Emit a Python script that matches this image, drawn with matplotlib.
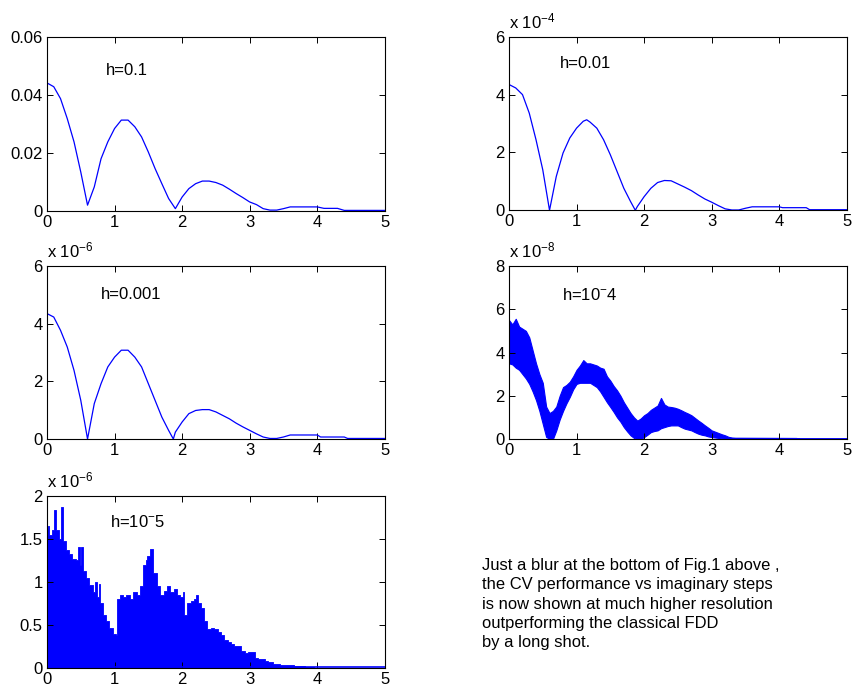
import numpy as np
import matplotlib.pyplot as plt

plt.rcParams['font.family'] = ['Liberation Sans', 'DejaVu Sans']
plt.rcParams['mathtext.fontset'] = 'custom'
plt.rcParams['mathtext.rm'] = 'Liberation Sans'
plt.rcParams['mathtext.it'] = 'Liberation Sans:italic'

# h = 0.1
x1 = [0, 0.1, 0.2, 0.3, 0.4, 0.5, 0.6, 0.7, 0.8, 0.9, 1.0, 1.1, 1.2, 1.3, 1.4,
      1.5, 1.6, 1.7, 1.8, 1.9, 2.0, 2.1, 2.2, 2.3, 2.4, 2.5, 2.6, 2.7, 2.8, 2.9,
      3.0, 3.1, 3.2, 3.3, 3.4, 3.5, 3.6, 3.7, 3.8, 3.9, 4.0, 4.1, 4.2, 4.3, 4.4,
      4.5, 5.0]
y1 = [0.0441, 0.0428, 0.0387, 0.0318, 0.0238, 0.0134, 0.0020, 0.0083, 0.0180,
      0.0238, 0.0284, 0.0313, 0.0313, 0.0290, 0.0255, 0.0203, 0.0146, 0.0094,
      0.0043, 0.0008, 0.0048, 0.0077, 0.0094, 0.0103, 0.0103, 0.0098, 0.0089,
      0.0075, 0.0060, 0.0046, 0.0031, 0.0022, 0.0008, 0.0003, 0.0003, 0.0008,
      0.0014, 0.0014, 0.0014, 0.0014, 0.0014, 0.0009, 0.0009, 0.0009, 0.0002,
      0.0002, 0.0002]

# h = 0.01  (units of 1e-4)
x2 = [0, 0.1, 0.2, 0.3, 0.4, 0.5, 0.6, 0.7, 0.8, 0.9, 1.0, 1.1, 1.15, 1.2, 1.3,
      1.4, 1.5, 1.6, 1.7, 1.8, 1.87, 1.9, 2.0, 2.1, 2.2, 2.3, 2.4, 2.5, 2.6, 2.7,
      2.8, 2.9, 3.0, 3.1, 3.2, 3.3, 3.4, 3.5, 3.6, 4.0, 4.05, 4.4, 4.45, 5.0]
y2 = [4.35, 4.23, 4.0, 3.36, 2.44, 1.4, 0.0, 1.17, 1.98, 2.5, 2.84, 3.08, 3.13,
      3.05, 2.84, 2.44, 1.92, 1.34, 0.76, 0.3, 0.0, 0.13, 0.47, 0.76, 0.96, 1.03,
      1.02, 0.91, 0.8, 0.68, 0.53, 0.39, 0.28, 0.16, 0.05, 0.01, 0.01, 0.07,
      0.12, 0.12, 0.09, 0.09, 0.02, 0.02]

# h = 0.001  (units of 1e-6)
x3 = [0, 0.1, 0.2, 0.3, 0.4, 0.5, 0.6, 0.7, 0.8, 0.9, 1.0, 1.1, 1.2, 1.3, 1.4,
      1.5, 1.6, 1.7, 1.8, 1.87, 1.9, 2.0, 2.1, 2.2, 2.3, 2.4, 2.5, 2.6, 2.7, 2.8,
      2.9, 3.0, 3.1, 3.2, 3.3, 3.4, 3.5, 3.6, 4.0, 4.05, 4.4, 4.45, 5.0]
y3 = [4.35, 4.23, 3.77, 3.19, 2.38, 1.34, 0.0, 1.23, 1.92, 2.5, 2.84, 3.08,
      3.08, 2.84, 2.5, 1.92, 1.34, 0.76, 0.3, 0.0, 0.24, 0.59, 0.88, 0.99, 1.02,
      1.02, 0.94, 0.82, 0.7, 0.55, 0.42, 0.3, 0.18, 0.07, 0.02, 0.02, 0.07,
      0.14, 0.14, 0.07, 0.07, 0.02, 0.02]

# h = 1e-4  (units of 1e-8), upper / lower edge of the noisy band
x4 = [0, 0.05, 0.1, 0.15, 0.2, 0.25, 0.3, 0.35, 0.4, 0.45, 0.5, 0.55, 0.6, 0.65,
      0.7, 0.75, 0.8, 0.85, 0.9, 0.95, 1.0, 1.05, 1.1, 1.15, 1.2, 1.25, 1.3,
      1.35, 1.4, 1.45, 1.5, 1.55, 1.6, 1.65, 1.7, 1.75, 1.8, 1.85, 1.9, 1.95,
      2.0, 2.05, 2.1, 2.15, 2.2, 2.25, 2.3, 2.35, 2.4, 2.45, 2.5, 2.55, 2.6,
      2.65, 2.7, 2.75, 2.8, 2.85, 2.9, 2.95, 3.0, 3.05, 3.1, 3.15, 3.2, 3.25,
      3.3, 3.35, 3.4, 4.25, 4.3, 5.0]
hi4 = [5.5, 5.3, 5.56, 5.2, 5.1, 5.0, 4.7, 4.1, 3.5, 3.0, 2.6, 1.5, 1.2, 1.3,
       1.5, 2.0, 2.4, 2.5, 2.65, 2.9, 3.2, 3.4, 3.65, 3.5, 3.5, 3.45, 3.4, 3.3,
       3.25, 2.9, 2.7, 2.45, 2.25, 2.0, 1.7, 1.45, 1.2, 1.0, 0.85, 0.95, 1.1,
       1.2, 1.35, 1.45, 1.55, 1.9, 1.6, 1.5, 1.48, 1.45, 1.4, 1.33, 1.25, 1.18,
       1.1, 0.98, 0.86, 0.75, 0.63, 0.52, 0.4, 0.34, 0.28, 0.22, 0.17, 0.1,
       0.07, 0.06, 0.06, 0.05, 0.03, 0.03]
lo4 = [3.5, 3.45, 3.3, 3.2, 3.0, 2.8, 2.55, 2.2, 1.8, 1.3, 0.7, 0.1, 0.0, 0.0,
       0.4, 0.9, 1.3, 1.65, 1.95, 2.3, 2.55, 2.6, 2.6, 2.6, 2.6, 2.5, 2.4, 2.2,
       1.95, 1.7, 1.48, 1.25, 1.0, 0.8, 0.55, 0.35, 0.17, 0.05, 0.0, 0.0, 0.09,
       0.2, 0.32, 0.37, 0.4, 0.5, 0.55, 0.6, 0.63, 0.63, 0.63, 0.55, 0.48, 0.44,
       0.4, 0.32, 0.25, 0.2, 0.17, 0.12, 0.09, 0.07, 0.05, 0.03, 0.02, 0.01,
       0.0, 0.02, 0.03, 0.03, 0.01, 0.01]

# h = 1e-5  (units of 1e-6), top of the spiky fill
x5 = [0, 0.02, 0.05, 0.1, 0.12, 0.15, 0.2, 0.22, 0.25, 0.3, 0.35, 0.4, 0.45,
      0.47, 0.5, 0.52, 0.55, 0.6, 0.65, 0.7, 0.72, 0.75, 0.78, 0.8, 0.85, 0.9,
      0.95, 1.0, 1.03, 1.05, 1.1, 1.15, 1.2, 1.25, 1.3, 1.35, 1.4, 1.45, 1.47,
      1.5, 1.55, 1.6, 1.65, 1.7, 1.75, 1.8, 1.85, 1.9, 1.95, 2.0, 2.02, 2.05,
      2.1, 2.15, 2.2, 2.22, 2.25, 2.3, 2.35, 2.4, 2.45, 2.5, 2.55, 2.6, 2.65,
      2.7, 2.75, 2.8, 2.85, 2.9, 2.95, 3.0, 3.05, 3.1, 3.15, 3.2, 3.25, 3.3,
      3.4, 3.5, 3.6, 3.7, 3.8, 3.85, 3.9, 4.0, 5.0]
y5 = [1.62, 1.65, 1.55, 1.6, 1.83, 1.6, 1.5, 1.87, 1.48, 1.37, 1.32, 1.27,
      1.25, 1.4, 1.2, 1.4, 1.13, 1.05, 0.96, 0.88, 1.0, 0.82, 0.98, 0.75, 0.62,
      0.55, 0.47, 0.4, 0.38, 0.8, 0.85, 0.82, 0.85, 0.8, 0.88, 0.85, 0.95,
      1.2, 1.25, 1.3, 1.38, 1.1, 0.95, 0.85, 0.9, 0.95, 0.88, 0.92, 0.85, 0.82,
      0.88, 0.62, 0.75, 0.78, 0.8, 0.85, 0.75, 0.7, 0.55, 0.45, 0.47, 0.45,
      0.42, 0.38, 0.32, 0.3, 0.28, 0.25, 0.26, 0.2, 0.17, 0.19, 0.18, 0.12,
      0.1, 0.1, 0.08, 0.07, 0.05, 0.04, 0.035, 0.02, 0.02, 0.01, 0.01, 0.005,
      0.005]

labels = ['h=0.1', 'h=0.01', 'h=0.001', r'h=10$^{-}$4', r'h=10$^{-}$5']

fig = plt.figure(figsize=(8.53, 6.94), dpi=100)
ax1 = fig.add_axes([0.0551, 0.696, 0.396, 0.251])
ax2 = fig.add_axes([0.5967, 0.697, 0.396, 0.250])
ax3 = fig.add_axes([0.0551, 0.3674, 0.396, 0.2493])
ax4 = fig.add_axes([0.5967, 0.3674, 0.396, 0.2493])
ax5 = fig.add_axes([0.0551, 0.0375, 0.396, 0.248])

blue = '#0000ff'
ax1.plot(x1, y1, color=blue, lw=0.9)
ax2.plot(x2, y2, color=blue, lw=0.9)
ax3.plot(x3, y3, color=blue, lw=0.9)
ax4.fill_between(x4, lo4, hi4, color=blue, lw=0.8)
ax5.fill_between(x5, 0, y5, color=blue, lw=0.6, step='mid')
ax5.plot([0, 5], [0.01, 0.01], color=blue, lw=1.2)

ylims = [0.06, 6, 6, 8, 2]
yticks = [[0, 0.02, 0.04, 0.06], [0, 2, 4, 6], [0, 2, 4, 6], [0, 2, 4, 6, 8],
          [0, 0.5, 1, 1.5, 2]]
ytlabels = [['0', '0.02', '0.04', '0.06'], ['0', '2', '4', '6'],
            ['0', '2', '4', '6'], ['0', '2', '4', '6', '8'],
            ['0', '0.5', '1', '1.5', '2']]
exps = [None, '-4', '-6', '-8', '-6']
label_pos = [(0.87, 0.0483), (0.75, 5.06), (0.8, 5.0), (0.78, 6.66), (0.93, 1.70)]

for i, ax in enumerate([ax1, ax2, ax3, ax4, ax5]):
    ax.set_xlim(0, 5)
    ax.set_ylim(0, ylims[i])
    ax.set_xticks([0, 1, 2, 3, 4, 5])
    ax.set_xticklabels(['0', '1', '2', '3', '4', '5'])
    ax.set_yticks(yticks[i])
    ax.set_yticklabels(ytlabels[i])
    ax.tick_params(direction='in', top=True, right=True, length=4,
                   labelsize=12, width=0.7, pad=3)
    for s in ax.spines.values():
        s.set_linewidth(0.8)
    ax.text(label_pos[i][0], label_pos[i][1], labels[i], fontsize=12,
            va='center', ha='left')
    if exps[i]:
        ax.text(0.0, 1.03, r'x 10$^{%s}$' % exps[i], transform=ax.transAxes,
                fontsize=12, va='bottom', ha='left')

note = ("Just a blur at the bottom of Fig.1 above ,\n"
        "the CV performance vs imaginary steps\n"
        "is now shown at much higher resolution\n"
        "outperforming the classical FDD\n"
        "by a long shot.")
fig.text(482 / 853, 1 - 558 / 694, note, fontsize=11.9, va='top', ha='left',
         linespacing=1.36)

fig.savefig('out.png', dpi=100)
